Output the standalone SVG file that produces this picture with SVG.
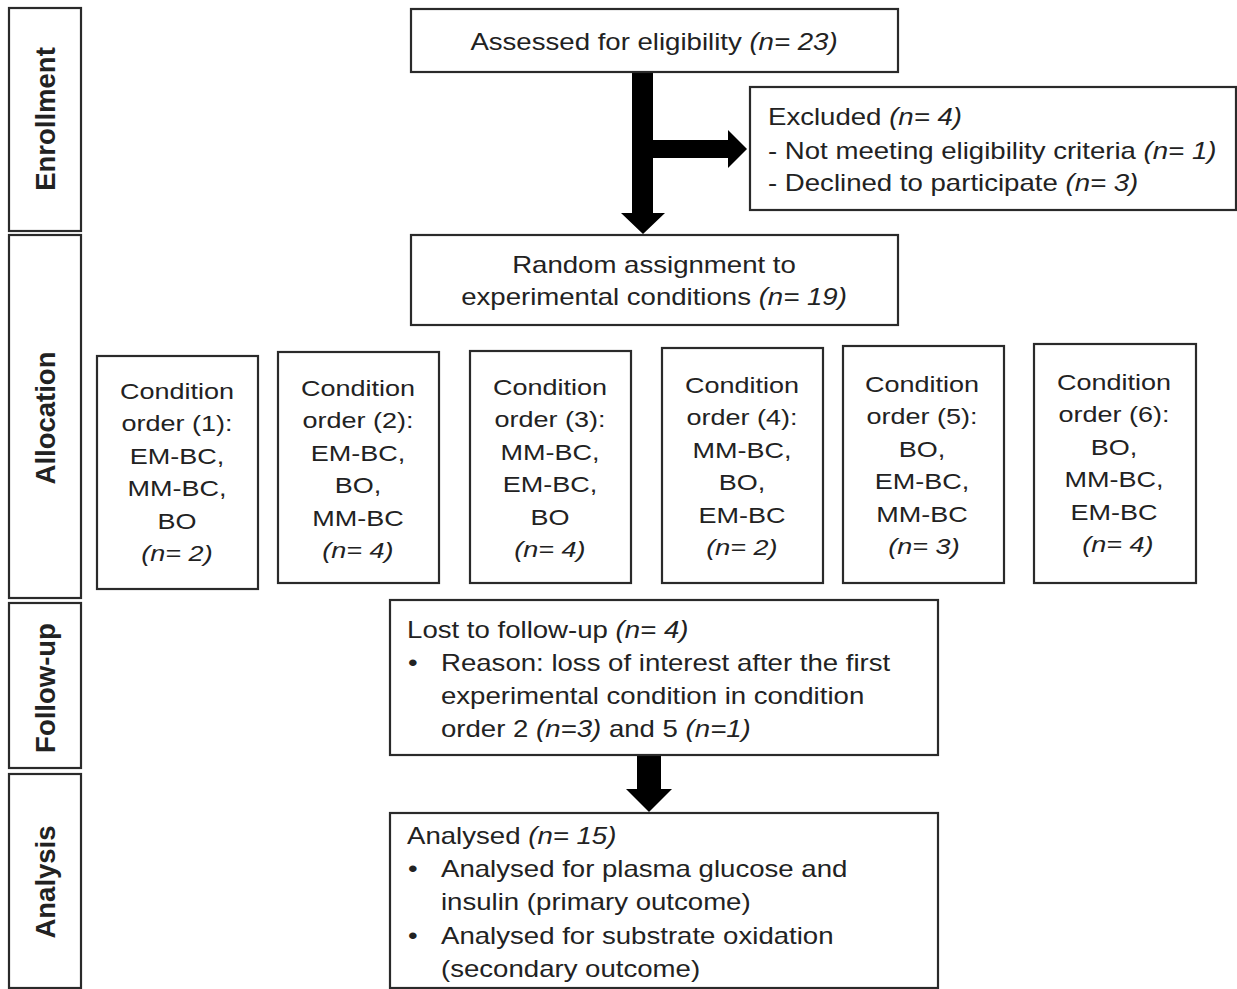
<svg xmlns="http://www.w3.org/2000/svg" width="1237" height="989" viewBox="0 0 1237 989">
<style>
rect.b{fill:#fff;stroke:#2a2a2a;stroke-width:2.2}
text{font-family:"Liberation Sans",Arial,sans-serif;font-size:23px;fill:#222}
text.c{text-anchor:middle}
text.cond{text-anchor:middle;font-size:22.5px}
text.sec{font-weight:bold;font-size:27.5px;text-anchor:middle}
.i{font-style:italic}
.arrow{fill:#000}
</style>
<g id="sec-enrollment"><rect class="b" x="9" y="8" width="72" height="223"/><text class="sec" transform="translate(55,119) rotate(-90)">Enrollment</text></g>
<g id="sec-allocation"><rect class="b" x="9" y="235" width="72" height="363"/><text class="sec" transform="translate(55,418) rotate(-90)">Allocation</text></g>
<g id="sec-followup"><rect class="b" x="9" y="603" width="72" height="165"/><text class="sec" transform="translate(55,688) rotate(-90)">Follow-up</text></g>
<g id="sec-analysis"><rect class="b" x="9" y="774" width="72" height="214"/><text class="sec" transform="translate(55,882) rotate(-90)">Analysis</text></g>

<g id="connectors">
<path class="arrow" d="M632,72 H653 V140 H728 V130 L747,149 L728,168 V158 H653 V213 H665 L643,234 L621,213 H632 Z"/>
<path class="arrow" d="M637,755 H661 V789 H672 L649,812 L626,789 H637 Z"/>
</g>

<g id="assessed"><rect class="b" x="411" y="9" width="487" height="63"/>
<text class="c" transform="scale(1.2 1)" x="545" y="50">Assessed for eligibility <tspan class="i">(n= 23)</tspan></text></g>

<g id="excluded"><rect class="b" x="750" y="87" width="486" height="123"/>
<text transform="scale(1.2 1)" x="640" y="125">Excluded <tspan class="i">(n= 4)</tspan></text>
<text transform="scale(1.2 1)" x="640" y="159">- Not meeting eligibility criteria <tspan class="i">(n= 1)</tspan></text>
<text transform="scale(1.2 1)" x="640" y="191">- Declined to participate <tspan class="i">(n= 3)</tspan></text></g>

<g id="random"><rect class="b" x="411" y="235" width="487" height="90"/>
<text class="c" transform="scale(1.2 1)" x="545" y="273">Random assignment to</text>
<text class="c" transform="scale(1.2 1)" x="545" y="305">experimental conditions <tspan class="i">(n= 19)</tspan></text></g>

<g id="cond1"><rect class="b" x="97" y="356" width="161" height="233"/>
<text class="cond" transform="scale(1.2 1)" x="147.5" y="399">Condition</text>
<text class="cond" transform="scale(1.2 1)" x="147.5" y="431.5">order (1):</text>
<text class="cond" transform="scale(1.2 1)" x="147.5" y="464">EM-BC,</text>
<text class="cond" transform="scale(1.2 1)" x="147.5" y="496.5">MM-BC,</text>
<text class="cond" transform="scale(1.2 1)" x="147.5" y="529">BO</text>
<text class="cond i" transform="scale(1.2 1)" x="147.5" y="561.5">(n= 2)</text></g>

<g id="cond2"><rect class="b" x="278" y="352" width="161" height="231"/>
<text class="cond" transform="scale(1.2 1)" x="298.3" y="396">Condition</text>
<text class="cond" transform="scale(1.2 1)" x="298.3" y="428.5">order (2):</text>
<text class="cond" transform="scale(1.2 1)" x="298.3" y="461">EM-BC,</text>
<text class="cond" transform="scale(1.2 1)" x="298.3" y="493.5">BO,</text>
<text class="cond" transform="scale(1.2 1)" x="298.3" y="526">MM-BC</text>
<text class="cond i" transform="scale(1.2 1)" x="298.3" y="558.5">(n= 4)</text></g>

<g id="cond3"><rect class="b" x="470" y="351" width="161" height="232"/>
<text class="cond" transform="scale(1.2 1)" x="458.3" y="395">Condition</text>
<text class="cond" transform="scale(1.2 1)" x="458.3" y="427.5">order (3):</text>
<text class="cond" transform="scale(1.2 1)" x="458.3" y="460">MM-BC,</text>
<text class="cond" transform="scale(1.2 1)" x="458.3" y="492.5">EM-BC,</text>
<text class="cond" transform="scale(1.2 1)" x="458.3" y="525">BO</text>
<text class="cond i" transform="scale(1.2 1)" x="458.3" y="557.5">(n= 4)</text></g>

<g id="cond4"><rect class="b" x="662" y="348" width="161" height="235"/>
<text class="cond" transform="scale(1.2 1)" x="618.3" y="393">Condition</text>
<text class="cond" transform="scale(1.2 1)" x="618.3" y="425.5">order (4):</text>
<text class="cond" transform="scale(1.2 1)" x="618.3" y="458">MM-BC,</text>
<text class="cond" transform="scale(1.2 1)" x="618.3" y="490.5">BO,</text>
<text class="cond" transform="scale(1.2 1)" x="618.3" y="523">EM-BC</text>
<text class="cond i" transform="scale(1.2 1)" x="618.3" y="555.5">(n= 2)</text></g>

<g id="cond5"><rect class="b" x="843" y="346" width="161" height="237"/>
<text class="cond" transform="scale(1.2 1)" x="768.3" y="392">Condition</text>
<text class="cond" transform="scale(1.2 1)" x="768.3" y="424.5">order (5):</text>
<text class="cond" transform="scale(1.2 1)" x="768.3" y="457">BO,</text>
<text class="cond" transform="scale(1.2 1)" x="768.3" y="489.5">EM-BC,</text>
<text class="cond" transform="scale(1.2 1)" x="768.3" y="522">MM-BC</text>
<text class="cond i" transform="scale(1.2 1)" x="770" y="554.5">(n= 3)</text></g>

<g id="cond6"><rect class="b" x="1034" y="344" width="162" height="239"/>
<text class="cond" transform="scale(1.2 1)" x="928.3" y="390">Condition</text>
<text class="cond" transform="scale(1.2 1)" x="928.3" y="422.5">order (6):</text>
<text class="cond" transform="scale(1.2 1)" x="928.3" y="455">BO,</text>
<text class="cond" transform="scale(1.2 1)" x="928.3" y="487.5">MM-BC,</text>
<text class="cond" transform="scale(1.2 1)" x="928.3" y="520">EM-BC</text>
<text class="cond i" transform="scale(1.2 1)" x="931.5" y="552.5">(n= 4)</text></g>

<g id="lost"><rect class="b" x="390" y="600" width="548" height="155"/>
<text transform="scale(1.2 1)" x="339.2" y="638">Lost to follow-up <tspan class="i">(n= 4)</tspan></text>
<text transform="scale(1.2 1)" x="340" y="671">•</text>
<text transform="scale(1.2 1)" x="367.5" y="671">Reason: loss of interest after the first</text>
<text transform="scale(1.2 1)" x="367.5" y="704">experimental condition in condition</text>
<text transform="scale(1.2 1)" x="367.5" y="737">order 2 <tspan class="i">(n=3)</tspan> and 5 <tspan class="i">(n=1)</tspan></text></g>

<g id="analysed"><rect class="b" x="390" y="813" width="548" height="175"/>
<text transform="scale(1.2 1)" x="339.2" y="844">Analysed <tspan class="i">(n= 15)</tspan></text>
<text transform="scale(1.2 1)" x="340" y="877">•</text>
<text transform="scale(1.2 1)" x="367.5" y="877">Analysed for plasma glucose and</text>
<text transform="scale(1.2 1)" x="367.5" y="910">insulin (primary outcome)</text>
<text transform="scale(1.2 1)" x="340" y="944">•</text>
<text transform="scale(1.2 1)" x="367.5" y="944">Analysed for substrate oxidation</text>
<text transform="scale(1.2 1)" x="367.5" y="977">(secondary outcome)</text></g>
</svg>
